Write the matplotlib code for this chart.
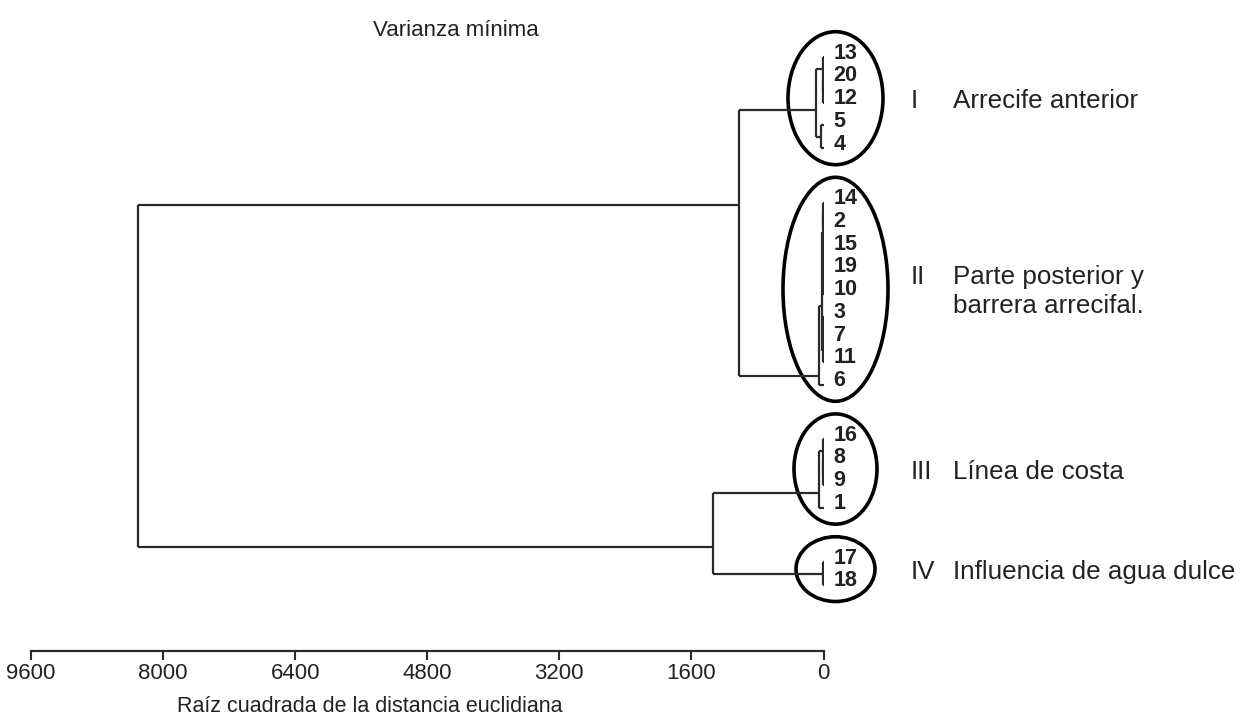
import matplotlib.pyplot as plt
from matplotlib.patches import Ellipse
from matplotlib import font_manager
from matplotlib.transforms import offset_copy

# leaves from top to bottom, grouped by cluster
leaf_labels = ["13", "20", "12", "5", "4",
               "14", "2", "15", "19", "10", "3", "7", "11", "6",
               "16", "8", "9", "1",
               "17", "18"]
group_ids = ["I", "II", "III", "IV"]
group_names = ["Arrecife anterior",
               "Parte posterior y\nbarrera arrecifal.",
               "Línea de costa",
               "Influencia de agua dulce"]
group_sizes = [5, 9, 4, 2]

# Ward merges: (node, left, right, height)
merges = [
    ("a", "20", "12", 3),
    ("b", "13", "a", 8),
    ("c", "5", "4", 32),
    ("I", "b", "c", 92),
    ("d", "14", "2", 3),
    ("e", "19", "10", 4),
    ("f", "15", "e", 7),
    ("g", "d", "f", 10),
    ("h", "3", "7", 5),
    ("k", "h", "11", 12),
    ("m", "g", "k", 16),
    ("II", "m", "6", 50),
    ("n", "8", "9", 5),
    ("o", "16", "n", 10),
    ("III", "o", "1", 50),
    ("IV", "17", "18", 4),
    ("I+II", "I", "II", 1025),
    ("III+IV", "III", "IV", 1340),
    ("root", "I+II", "III+IV", 8300),
]

xticks = [9600, 8000, 6400, 4800, 3200, 1600, 0]

W, H = 1240, 717
LINE = "#2a2a2a"
TXT = "#222222"

installed = {f.name for f in font_manager.fontManager.ttflist}
base_font = "Liberation Sans"
narrow_font = "Liberation Sans Narrow" if "Liberation Sans Narrow" in installed else base_font
plt.rcParams["font.family"] = [base_font, "DejaVu Sans"]

fig = plt.figure(figsize=(W / 100, H / 100), dpi=100)
fig.patch.set_facecolor("white")

# axes span the scale bar; leaf rows are 22.75 px apart
row_px = 22.75
first_px = 57.2
x0_px, x1_px, base_px = 31, 823.5, 651
ax = fig.add_axes([x0_px / W, (H - base_px) / H, (x1_px - x0_px) / W, base_px / H])
ax.set_xlim(xticks[0], xticks[-1])
ax.set_ylim((base_px - first_px) / row_px, -first_px / row_px)
ux = xticks[0] / (x1_px - x0_px)    # data units per pixel along x

# leaf slots, with an extra gap between clusters
cluster_gap = 1.4
leaf_y = {}
slot = 0.0
i = 0
for g, size in enumerate(group_sizes):
    for _ in range(size):
        leaf_y[leaf_labels[i]] = slot
        slot += 1
        i += 1
    slot += cluster_gap

node_y = dict(leaf_y)
node_h = {lab: 0.0 for lab in leaf_labels}
node_n = {lab: 1 for lab in leaf_labels}
for name, left, right, h in merges:
    nl, nr = node_n[left], node_n[right]
    yl, yr = node_y[left], node_y[right]
    # joint sits closer to the smaller branch
    node_y[name] = (nr * yl + nl * yr) / (nl + nr)
    node_n[name] = nl + nr
    node_h[name] = h
    ax.plot([h, h], [yl, yr], color=LINE, lw=1.6, solid_capstyle="butt")
    for child in (left, right):
        ax.plot([node_h[child], h], [node_y[child], node_y[child]],
                color=LINE, lw=1.6, solid_capstyle="butt")

# leaf numbers
lab_tr = offset_copy(ax.transData, fig=fig, x=7.0, y=3.0, units="points")
for lab in leaf_labels:
    ax.text(0, leaf_y[lab], lab, transform=lab_tr, fontsize=15.5, fontweight="bold",
            color=TXT, ha="left", va="center", clip_on=False)

# cluster ellipses and names
ell_w_px = [95, 105, 83, 79]
start = 0
for g, size in enumerate(group_sizes):
    ys = [leaf_y[l] for l in leaf_labels[start:start + size]]
    start += size
    mid = (ys[0] + ys[-1]) / 2 - 4.5 / row_px
    height = (ys[-1] - ys[0]) + 42 / row_px
    ax.add_patch(Ellipse((-(835.5 - x1_px) * ux, mid), ell_w_px[g] * ux, height,
                         fill=False, ec="black", lw=2.6, clip_on=False))
    lines = group_names[g].split("\n")
    y_first = mid - (len(lines) - 1) * (29.3 / row_px) / 2
    ax.text(-(911 - x1_px) * ux, y_first, group_ids[g], fontsize=18.7, color=TXT,
            ha="left", va="center_baseline", clip_on=False)
    for j, line in enumerate(lines):
        ax.text(-(953 - x1_px) * ux, y_first + j * 29.3 / row_px, line, fontsize=18.7,
                color=TXT, ha="left", va="center_baseline", clip_on=False)

for side in ("left", "right", "top"):
    ax.spines[side].set_visible(False)
ax.spines["bottom"].set_linewidth(1.6)
ax.spines["bottom"].set_color(LINE)
ax.set_yticks([])
ax.set_xticks(xticks)
ax.set_xticklabels([str(t) for t in xticks], fontfamily=narrow_font, fontsize=16, color=TXT)
ax.tick_params(axis="x", direction="out", length=6.5, width=1.5, color=LINE, pad=2)

fig.text(456 / W, 1 - 30 / H, "Varianza mínima", fontsize=16, color=TXT,
         ha="center", va="center")
fig.text(370 / W, 1 - 706 / H, "Raíz cuadrada de la distancia euclidiana", fontsize=15.5,
         color=TXT, ha="center", va="center")

fig.savefig("out.png", dpi=100, facecolor="white")
